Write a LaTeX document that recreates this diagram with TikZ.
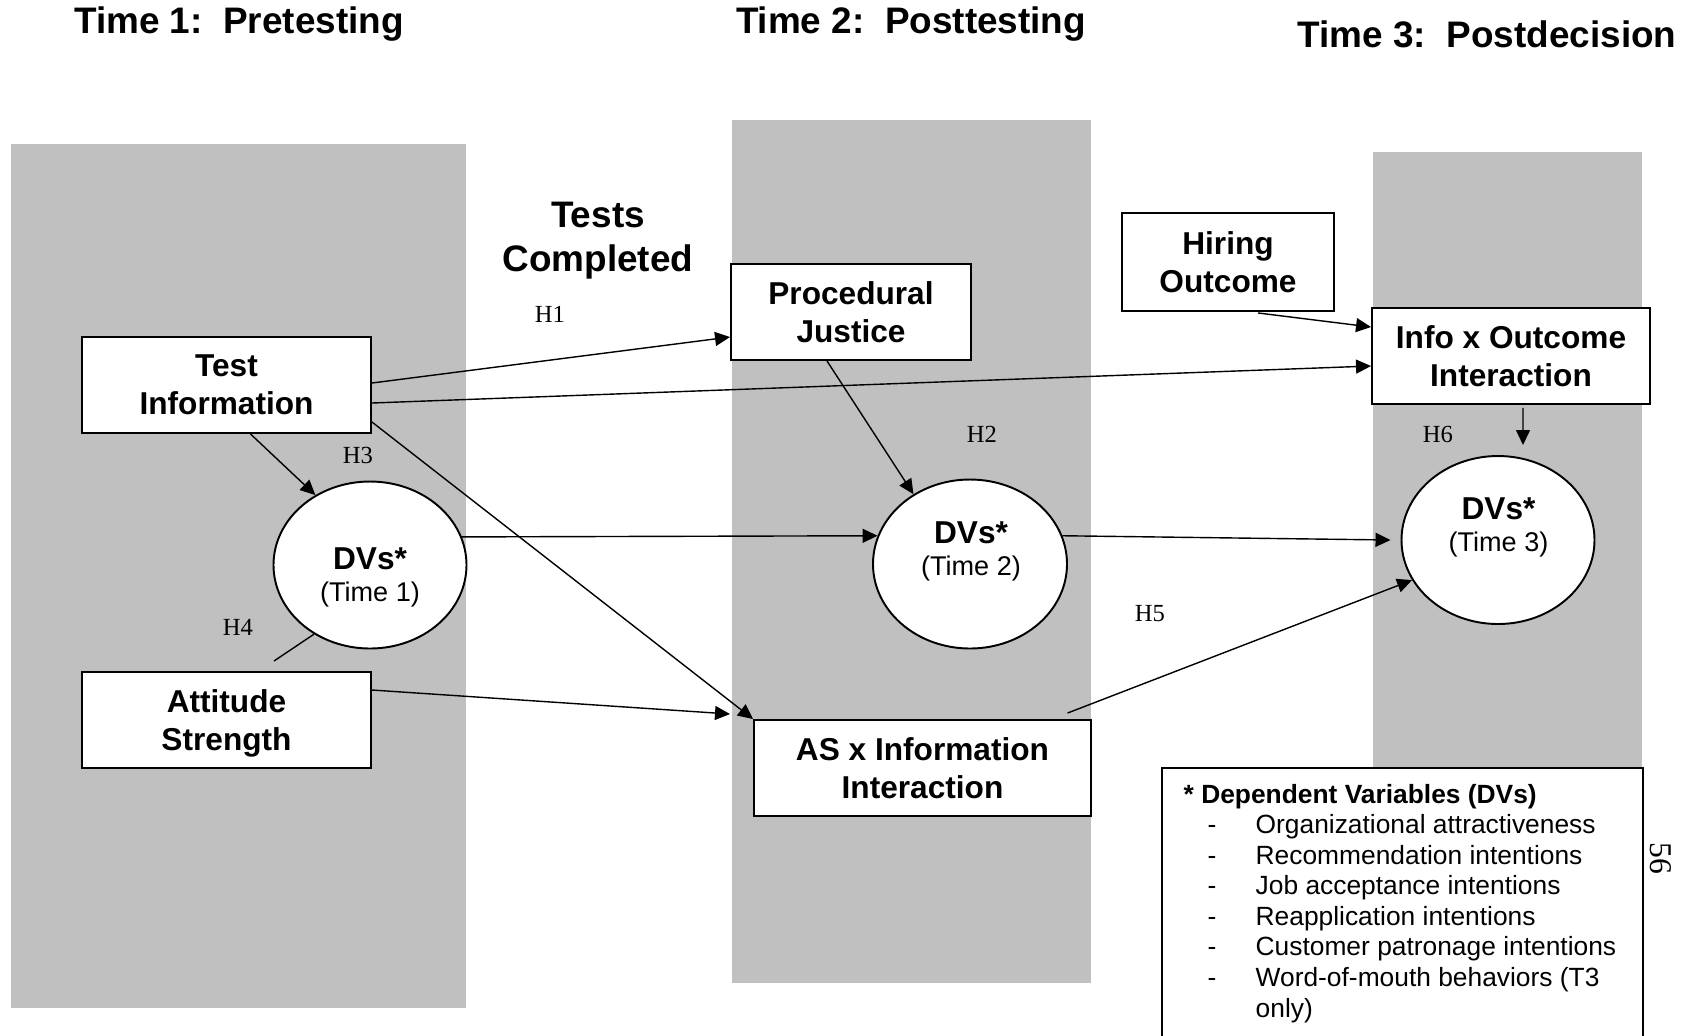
\documentclass[tikz,border=0pt]{standalone}
\usepackage{fontspec}
\setmainfont{Liberation Sans}
\newfontfamily\timesfont{Liberation Serif}
\usepackage{tikz}
\usetikzlibrary{shapes.geometric}
\usetikzlibrary{arrows.meta}
\pgfdeclarelayer{backlayer}
\pgfdeclarelayer{edgelayer}
\pgfdeclarelayer{nodelayer}
\pgfsetlayers{backlayer,edgelayer,nodelayer,main}
\definecolor{panelgray}{RGB}{192,192,192}
\newcommand{\dashitem}[1]{\makebox[0.72cm][l]{\hspace{0.24cm}-}#1}
\tikzstyle{blank}=[inner sep=0pt]
\tikzstyle{title}=[inner sep=0pt, align=center, font=\fontsize{10.5}{12.5}\selectfont\bfseries]
\tikzstyle{box}=[rectangle, draw, fill=white, line width=0.55pt, inner sep=0pt, text depth=0pt, align=center, font=\fontsize{9}{10.8}\selectfont\bfseries]
\tikzstyle{dv}=[ellipse, draw, fill=white, line width=0.55pt, inner sep=0pt]
\tikzstyle{dvtext}=[inner sep=0pt, align=center, font=\fontsize{9}{9.1}\selectfont]
\tikzstyle{hyp}=[inner sep=0pt, font=\fontsize{7}{8}\selectfont\timesfont]
\tikzstyle{legendbox}=[rectangle, draw, fill=white, line width=0.55pt, inner sep=0pt, minimum width=4.81cm, minimum height=2.77cm]

\begin{document}
\begin{tikzpicture}[>={Triangle[length=1.5mm,width=1.4mm]}, line width=0.45pt]
	\useasboundingbox (0,0) rectangle (16.97,-10.35);
	\begin{pgfonlayer}{backlayer}
		\fill [panelgray] (0.11,-1.44) rectangle (4.66,-10.08);
		\fill [panelgray] (7.32,-1.20) rectangle (10.91,-9.83);
		\fill [panelgray] (13.73,-1.52) rectangle (16.42,-8.00);
	\end{pgfonlayer}
	\begin{pgfonlayer}{nodelayer}
		\node [style=box, minimum width=2.89cm, minimum height=0.96cm] (0) at (2.265, -3.85) {Test\\Information};
		\node [style=box, minimum width=2.89cm, minimum height=0.96cm] (1) at (2.265, -7.20) {Attitude\\Strength};
		\node [style=box, minimum width=2.40cm, minimum height=0.96cm] (2) at (8.51, -3.12) {Procedural\\Justice};
		\node [style=box, minimum width=3.37cm, minimum height=0.96cm] (3) at (9.225, -7.68) {AS x Information\\Interaction};
		\node [style=box, minimum width=2.12cm, minimum height=0.98cm] (4) at (12.28, -2.62) {Hiring\\Outcome};
		\node [style=box, minimum width=2.78cm, minimum height=0.96cm] (5) at (15.11, -3.56) {Info x Outcome\\Interaction};
		\node [style=dv, minimum width=1.93cm, minimum height=1.67cm] (6) at (3.70, -5.65) {};
		\node [style=dv, minimum width=1.94cm, minimum height=1.69cm] (7) at (9.70, -5.64) {};
		\node [style=dv, minimum width=1.93cm, minimum height=1.68cm] (8) at (14.98, -5.40) {};
		\node [style=dvtext] (9) at (3.70, -5.77) {\textbf{DVs*}\\{\fontsize{7.7}{9.1}\selectfont (Time 1)}};
		\node [style=dvtext] (10) at (9.71, -5.515) {\textbf{DVs*}\\{\fontsize{7.7}{9.1}\selectfont (Time 2)}};
		\node [style=dvtext] (11) at (14.985, -5.27) {\textbf{DVs*}\\{\fontsize{7.7}{9.1}\selectfont (Time 3)}};
		\node [style=title] (12) at (2.39, -0.238) {Time 1:~~Pretesting};
		\node [style=title] (13) at (9.11, -0.238) {Time 2:~~Posttesting};
		\node [style=title] (14) at (14.87, -0.346) {Time 3:~~Postdecision};
		\node [style=title] (15) at (5.98, -2.41) {Tests\\Completed};
		\node [style=hyp] (16) at (5.50, -3.14) {H1};
		\node [style=hyp] (17) at (9.82, -4.34) {H2};
		\node [style=hyp] (18) at (3.58, -4.55) {H3};
		\node [style=hyp] (19) at (2.38, -6.27) {H4};
		\node [style=hyp] (20) at (11.50, -6.14) {H5};
		\node [style=hyp] (21) at (14.38, -4.34) {H6};
		\node [style=legendbox] (22) at (14.025, -9.065) {};
		\node [style=blank, anchor=base west, font=\fontsize{7.5}{8.7}\selectfont] (23) at (11.83, -8.03) {%
			\begin{tabular}[t]{@{}l@{}}
				\textbf{* Dependent Variables (DVs)}\\
				\dashitem{Organizational attractiveness}\\
				\dashitem{Recommendation intentions}\\
				\dashitem{Job acceptance intentions}\\
				\dashitem{Reapplication intentions}\\
				\dashitem{Customer patronage intentions}\\
				\dashitem{Word-of-mouth behaviors (T3}\\
				\makebox[0.72cm]{}only)
			\end{tabular}};
		\node [style=blank, rotate=-90, font=\fontsize{9}{10}\selectfont\timesfont] (24) at (16.61, -8.58) {56};
		\node [style=blank] (25) at (15.23, -4.45) {};
		\node [style=blank] (26) at (7.30, -7.14) {};
		\node [style=blank] (27) at (2.74, -6.61) {};
	\end{pgfonlayer}
	\begin{pgfonlayer}{edgelayer}
		\draw [->] ([yshift=0.02cm]0.east) to ([yshift=-0.25cm]2.west);
		\draw [->] ([yshift=-0.18cm]0.east) to ([yshift=-0.10cm]5.west);
		\draw [->] ([yshift=-0.37cm]0.east) to (3.north west);
		\draw [->] ([xshift=0.24cm]0.south) to (6.128);
		\draw [->] (6.17) to (7.163);
		\draw [->] (7.17) to ([xshift=-0.10cm]8.west);
		\draw [->] ([xshift=-0.24cm]2.south) to (7.129);
		\draw [->] ([xshift=0.30cm,yshift=-0.01cm]4.south) to ([yshift=0.29cm]5.west);
		\draw [->] ([xshift=0.12cm,yshift=-0.03cm]5.south) to (25.center);
		\draw [->] ([xshift=1.45cm,yshift=0.06cm]3.north) to (8.205);
		\draw [->] ([yshift=0.30cm]1.east) to (26.center);
		\draw (27.center) to (6.231);
	\end{pgfonlayer}
\end{tikzpicture}
\end{document}
